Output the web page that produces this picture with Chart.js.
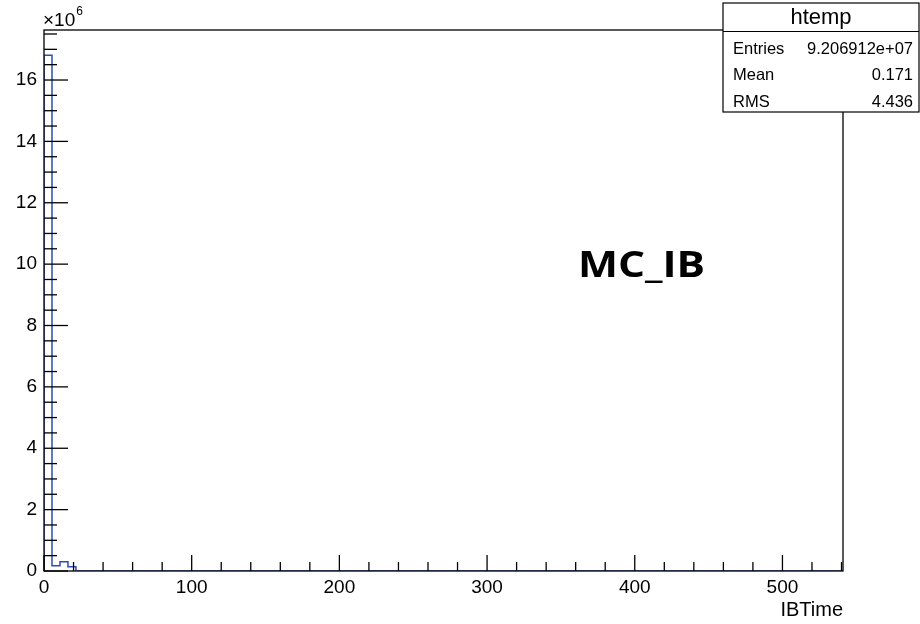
<!DOCTYPE html>
<html>
<head>
<meta charset="utf-8">
<script src="https://cdn.jsdelivr.net/npm/chart.js@4.4.1/dist/chart.umd.min.js"></script>
<style>
  html, body { margin: 0; padding: 0; background: #fff; }
  #wrap { width: 920px; height: 624px; position: relative; }
</style>
</head>
<body>
<div id="wrap"><canvas id="c" width="920" height="624"></canvas></div>
<script>
// ---- data ----
const binLowEdges = [0, 5.41, 10.82, 16.23];
const binCounts   = [16810000, 170000, 300000, 140000];
const histEnd     = 21.64;      // upper edge of last filled bin
const xMin = 0, xMax = 541;
const yMin = 0, yMax = 17630000;
const xMajorStep = 100, xMinorStep = 20;
const yMajorStep = 2000000, yMinorStep = 500000;
const statsTitle = 'htemp';
const statsNames  = ['Entries', 'Mean', 'RMS'];
const statsValues = ['9.206912e+07', '0.171', '4.436'];
const xTitle = 'IBTime';
const annotation = 'MC_IB';

// histogram outline points (step-before)
const points = [{x: binLowEdges[0], y: 0}];
binLowEdges.forEach((e, i) => points.push({x: e, y: binCounts[i]}));
points.push({x: histEnd, y: 0});
points.push({x: xMax, y: 0});

const FONT = "'Liberation Sans', Arial, Helvetica, sans-serif";

function isMultiple(v, step) {
  const r = v / step;
  return Math.abs(r - Math.round(r)) < 1e-6;
}
function tickList(min, max, step) {
  const out = [];
  for (let i = Math.ceil(min / step); i * step <= max + 1e-9; i++) out.push({value: i * step});
  return out;
}

const rootPlugin = {
  id: 'rootStyle',
  afterDraw(chart) {
    const ctx = chart.ctx;
    const a = chart.chartArea;
    const xs = chart.scales.x, ys = chart.scales.y;
    ctx.save();
    ctx.strokeStyle = '#000';
    ctx.lineWidth = 1.3;
    // frame
    ctx.strokeRect(a.left, a.top, a.right - a.left, a.bottom - a.top);
    // y ticks
    ys.ticks.forEach(t => {
      const y = ys.getPixelForValue(t.value);
      const len = isMultiple(t.value, yMajorStep) ? 24 : 13;
      ctx.beginPath(); ctx.moveTo(a.left, y); ctx.lineTo(a.left + len, y); ctx.stroke();
    });
    // x ticks
    xs.ticks.forEach(t => {
      const x = xs.getPixelForValue(t.value);
      const len = isMultiple(t.value, xMajorStep) ? 16 : 9;
      ctx.beginPath(); ctx.moveTo(x, a.bottom); ctx.lineTo(x, a.bottom - len); ctx.stroke();
    });
    // exponent label
    ctx.fillStyle = '#000';
    ctx.textBaseline = 'alphabetic';
    ctx.textAlign = 'left';
    ctx.font = '19px ' + FONT;
    ctx.fillText('\u00d710', 43, 25.5);
    const w10 = ctx.measureText('\u00d710').width;
    ctx.font = '12px ' + FONT;
    ctx.fillText('6', 43 + w10 + 1, 15);

    // stats box
    const bx = 723, by = 3, bw = 196, bh = 109, sep = 31.5;
    ctx.fillStyle = '#fff';
    ctx.fillRect(bx, by, bw, bh);
    ctx.lineWidth = 1.2;
    ctx.strokeRect(bx, by, bw, bh);
    ctx.beginPath(); ctx.moveTo(bx, sep); ctx.lineTo(bx + bw, sep); ctx.stroke();
    ctx.fillStyle = '#000';
    ctx.textBaseline = 'middle';
    ctx.textAlign = 'center';
    ctx.font = '22px ' + FONT;
    ctx.fillText(statsTitle, bx + bw / 2, 18);
    const rowY = [49, 75.5, 102];
    ctx.font = '16.5px ' + FONT;
    statsNames.forEach((n, i) => {
      ctx.textAlign = 'left';
      ctx.fillText(n, 733, rowY[i]);
      ctx.textAlign = 'right';
      ctx.fillText(statsValues[i], 913, rowY[i]);
    });

    // annotation
    ctx.font = "bold 36px 'Open Sans', 'Lato', sans-serif";
    ctx.textAlign = 'left';
    ctx.textBaseline = 'alphabetic';
    const mw = ctx.measureText(annotation).width;
    ctx.save();
    ctx.translate(578, 277);
    ctx.scale(127 / mw, 1);
    ctx.fillText(annotation, 0, 0);
    ctx.restore();
    ctx.restore();
  }
};

new Chart(document.getElementById('c'), {
  type: 'line',
  data: {
    datasets: [{
      data: points,
      stepped: 'before',
      borderColor: '#2f4db3',
      borderWidth: 1.5,
      pointRadius: 0,
      fill: false,
      tension: 0
    }]
  },
  options: {
    responsive: false,
    animation: false,
    devicePixelRatio: 1,
    events: [],
    layout: { padding: { top: 30, right: 77, left: 0, bottom: 0 } },
    plugins: { legend: { display: false }, tooltip: { enabled: false }, title: { display: false } },
    scales: {
      x: {
        type: 'linear',
        min: xMin, max: xMax,
        grid: { display: false, drawTicks: false },
        border: { display: false },
        afterBuildTicks: s => { s.ticks = tickList(xMin, xMax, xMinorStep); },
        ticks: {
          autoSkip: false,
          maxRotation: 0,
          padding: 5,
          color: '#000',
          font: { family: FONT, size: 19 },
          callback: v => isMultiple(v, xMajorStep) ? String(v) : ''
        },
        title: {
          display: true, text: xTitle, align: 'end', color: '#000',
          font: { family: FONT, size: 20 }, padding: { top: 0, bottom: 2 }
        },
        afterFit: s => { s.height = 53; }
      },
      y: {
        type: 'linear',
        min: yMin, max: yMax,
        grid: { display: false, drawTicks: false },
        border: { display: false },
        afterBuildTicks: s => { s.ticks = tickList(yMin, yMax, yMinorStep); },
        ticks: {
          autoSkip: false,
          padding: 7,
          color: '#000',
          font: { family: FONT, size: 19 },
          callback: v => isMultiple(v, yMajorStep) ? String(Math.round(v / 1e6)) : ''
        },
        afterFit: s => { s.width = 44; }
      }
    }
  },
  plugins: [rootPlugin]
});
</script>
</body>
</html>
